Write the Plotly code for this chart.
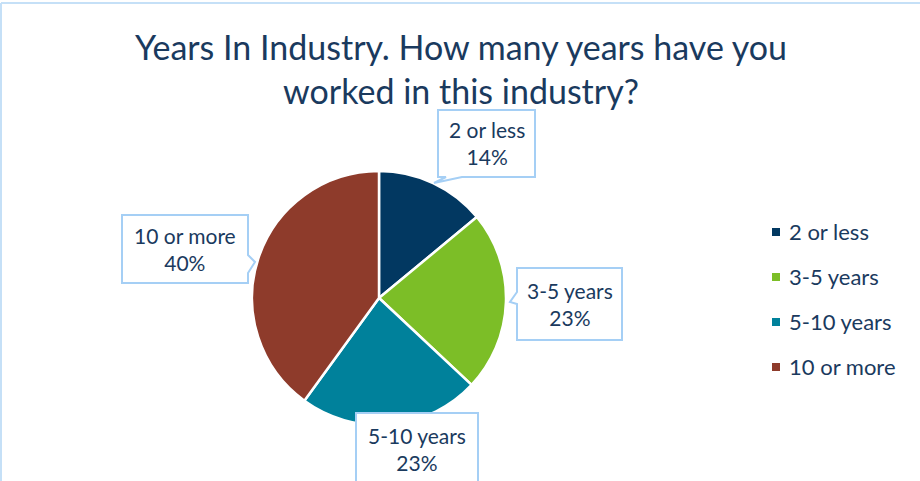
import plotly.graph_objects as go

categories = ["2 or less", "3-5 years", "5-10 years", "10 or more"]
values = [14, 23, 23, 40]
colors = ["#023861", "#7CBE27", "#00819B", "#8E3B2B"]
title_text = "Years In Industry. How many years have you<br>worked in this industry?"

W, H = 920, 481
FONT = "Lato"
TEXT_COLOR = "#1A3A5E"
BOX_COLOR = "#A5CFF5"

def px(x):
    return x / W

def py(y):
    return 1 - y / H

fig = go.Figure()
fig.add_trace(go.Pie(
    labels=categories,
    values=values,
    sort=False,
    direction="clockwise",
    rotation=0,
    marker=dict(colors=colors, line=dict(color="white", width=2.5)),
    textinfo="none",
    hoverinfo="label+percent",
    domain=dict(x=[px(252), px(506)], y=[py(425), py(171)]),
    showlegend=False,
))

shapes = []
annotations = []

def path_from(points):
    return "M " + " L ".join(f"{px(x):.5f},{py(y):.5f}" for x, y in points) + " Z"

callouts = [
    (0, [(438, 110), (535, 110), (535, 177), (462, 177), (434, 183), (446, 177), (438, 177)]),
    (1, [(517, 268), (622, 268), (622, 340), (517, 340), (517, 304), (510, 302), (517, 292)]),
    (2, [(356, 413), (478, 413), (478, 495), (356, 495)]),
    (3, [(122, 215), (248, 215), (248, 255), (255, 262), (248, 273), (248, 283), (122, 283)]),
]
centers = {0: (486.5, 143), 1: (569.5, 304), 2: (417, 449), 3: (185, 249)}
pct_total = sum(values)
for idx, pts in callouts:
    shapes.append(dict(type="path", xref="paper", yref="paper", path=path_from(pts),
                       line=dict(color=BOX_COLOR, width=2), fillcolor="white", layer="above"))
    cx, cy = centers[idx]
    pct = round(values[idx] / pct_total * 100)
    annotations.append(dict(x=px(cx), y=py(cy), xref="paper", yref="paper",
                            text=f"{categories[idx]}<br>{pct}%", showarrow=False,
                            font=dict(family=FONT, size=21, color=TEXT_COLOR),
                            align="center", xanchor="center", yanchor="middle"))

leg_y0, leg_dy = 231, 45
for i, (cat, col) in enumerate(zip(categories, colors)):
    y = leg_y0 + i * leg_dy
    shapes.append(dict(type="rect", xref="paper", yref="paper",
                       x0=px(772), x1=px(780), y0=py(y + 5), y1=py(y - 3),
                       fillcolor=col, line=dict(width=0)))
    annotations.append(dict(x=px(787), y=py(y), xref="paper", yref="paper",
                            text=cat, showarrow=False, xanchor="left", yanchor="middle",
                            font=dict(family=FONT, size=22, color=TEXT_COLOR)))

annotations.append(dict(x=px(461), y=py(68), xref="paper", yref="paper", text=title_text,
                        showarrow=False, xanchor="center", yanchor="middle",
                        font=dict(family=FONT, size=34, color=TEXT_COLOR)))

shapes.append(dict(type="line", xref="paper", yref="paper", x0=px(1), x1=px(920), y0=py(3), y1=py(3),
                   line=dict(color="#C5E0F7", width=2)))
shapes.append(dict(type="line", xref="paper", yref="paper", x0=px(1), x1=px(1), y0=py(3), y1=py(481),
                   line=dict(color="#C5E0F7", width=2)))

fig.update_layout(
    width=W, height=H,
    margin=dict(l=0, r=0, t=0, b=0),
    paper_bgcolor="white", plot_bgcolor="white",
    shapes=shapes, annotations=annotations,
    showlegend=False,
)

fig.write_html("out.html")
